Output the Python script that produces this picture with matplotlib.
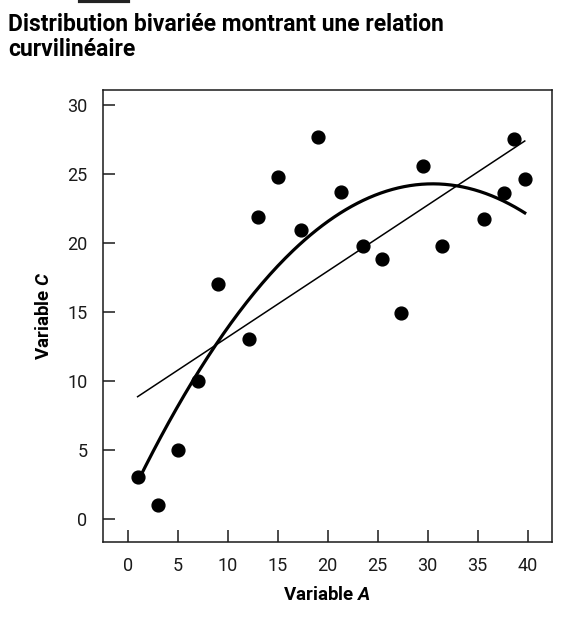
#!/usr/bin/env python3
"""Bivariate scatter showing a curvilinear relation (Variable A vs Variable C)."""

import matplotlib
matplotlib.use("Agg")
import matplotlib.pyplot as plt
import numpy as np

plt.rcParams["font.family"] = ["Roboto", "DejaVu Sans"]
plt.rcParams["mathtext.fontset"] = "custom"
plt.rcParams["mathtext.bf"] = "Roboto:bold"
plt.rcParams["mathtext.bfit"] = "Roboto:italic:bold"

TITLE = "Distribution bivariée montrant une relation\ncurvilinéaire"
X_LABEL = r"Variable $\mathbfit{A}$"
Y_LABEL = r"Variable $\mathbfit{C}$"

var_a = [1.0, 3.0, 5.0, 7.0, 9.0, 12.1, 13.0, 15.0, 17.3, 19.0,
         21.3, 23.5, 25.4, 27.3, 29.5, 31.4, 35.6, 37.6, 38.6, 39.7]
var_c = [3.0, 1.0, 5.0, 10.0, 17.0, 13.0, 21.9, 24.8, 20.9, 27.7,
         23.7, 19.8, 18.8, 14.9, 25.6, 19.8, 21.7, 23.6, 27.5, 24.6]
x_ticks = [0, 5, 10, 15, 20, 25, 30, 35, 40]
y_ticks = [0, 5, 10, 15, 20, 25, 30]

a = np.array(var_a)
c = np.array(var_c)
lin = np.polyfit(a, c, 1)
quad = np.polyfit(a, c, 2)
xs = np.linspace(a.min(), a.max(), 200)

fig = plt.figure(figsize=(5.7, 6.28), dpi=100)
ax = fig.add_axes([0.18, 0.137, 0.788, 0.72])

ax.plot(xs, np.polyval(lin, xs), color="black", lw=1.1, zorder=2)
ax.plot(xs, np.polyval(quad, xs), color="black", lw=2.3, zorder=2)
ax.scatter(a, c, s=85, color="black", zorder=3)

ax.set_xlim(-2.5, 42.4)
ax.set_ylim(-1.7, 31.1)
ax.set_xticks(x_ticks)
ax.set_yticks(y_ticks)
ax.tick_params(direction="in", length=8.5, width=1.1, labelsize=13,
               colors="#1a1a1a", pad=11)
for sp in ax.spines.values():
    sp.set_linewidth(1.1)
    sp.set_color("#1a1a1a")

ax.set_xlabel(X_LABEL, fontsize=13.5, fontweight="bold", labelpad=8)
ax.set_ylabel(Y_LABEL, fontsize=13.5, fontweight="bold", labelpad=10)

fig.text(0.014, 0.98, TITLE, fontsize=16.5, fontweight="bold",
         va="top", ha="left", linespacing=1.12)

# dark rule at the top edge of the page
fig.add_artist(plt.Line2D([0.14, 0.225], [0.998, 0.998], color="#222222",
                          lw=3, transform=fig.transFigure))

fig.savefig("out.png", dpi=100, facecolor="white")
